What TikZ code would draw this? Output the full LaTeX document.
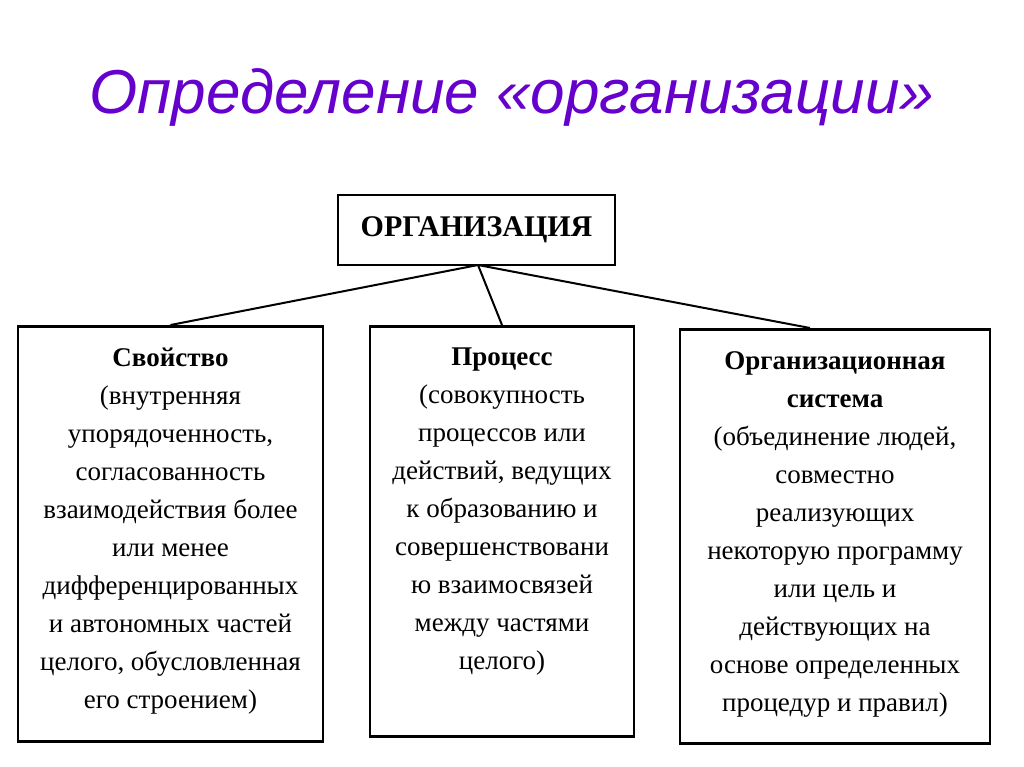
\documentclass[tikz,border=0pt]{standalone}
\usepackage{fontspec}
\setmainfont{Liberation Serif}
\newfontfamily\titlefont{Liberation Sans}
\usetikzlibrary{positioning}
\definecolor{titlepurple}{RGB}{102,0,204}
\newcommand{\boxtext}[3]{\parbox[t][#2][t]{#1}{\centering #3}}
\tikzset{
  box/.style={draw,line width=2.5pt,anchor=north,inner xsep=4pt,inner ysep=22pt,
    font=\fontsize{27}{38}\selectfont},
  link/.style={line width=2pt}
}
\begin{document}
\begin{tikzpicture}[x=1pt,y=-1pt]
    \useasboundingbox (0,0) rectangle (1024,767);
    \node[font=\titlefont\itshape\fontsize{62}{70}\selectfont,text=titlepurple] (title) at (512,97) {Определение «организации»};
    \node[draw,line width=2.5pt,anchor=center,minimum width=277pt,minimum height=70pt,font=\bfseries\fontsize{30}{34}\selectfont] (org) at (476.5,230) {ОРГАНИЗАЦИЯ};
    \node[box] (prop) at (170.5,325)
        {\boxtext{297pt}{371pt}{\textbf{Свойство}\\(внутренняя\\упорядоченность,\\согласованность\\взаимодействия более\\или менее\\дифференцированных\\и автономных частей\\целого, обусловленная\\его строением)}};
    \node[box] (proc) at (502,325)
        {\boxtext{256pt}{366pt}{\textbf{Процесс}\\(совокупность\\процессов или\\действий, ведущих\\к образованию и\\совершенствовани\\ю взаимосвязей\\между частями\\целого)}};
    \node[box] (sys) at (835,328)
        {\boxtext{302pt}{370pt}{\textbf{Организационная}\\\textbf{система}\\(объединение людей,\\совместно\\реализующих\\некоторую программу\\или цель и\\действующих на\\основе определенных\\процедур и правил)}};
    \coordinate (hub) at (478,265);
    \draw[link] (hub) -- (prop.north);
    \draw[link] (hub) -- (proc.north);
    \draw[link] (hub) -- ([xshift=-25pt]sys.north);
\end{tikzpicture}
\end{document}
